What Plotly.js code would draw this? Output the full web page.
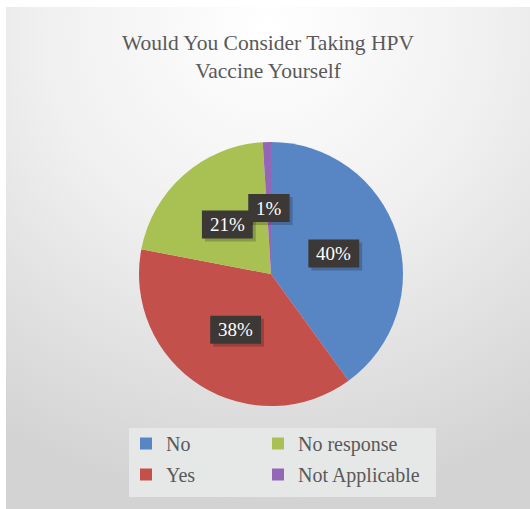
<!DOCTYPE html>
<html><head><meta charset="utf-8">
<script src="https://cdn.plot.ly/plotly-3.0.1.min.js"></script>
<style>html,body{margin:0;padding:0;background:#fff}#chart{width:530px;height:509px}</style>
</head><body><div id="chart"></div>
<script>
// ---- data ----
const categories = ["No", "Yes", "No response", "Not Applicable"];
const values = [40, 38, 21, 1];
const legendColumn1 = ["No", "Yes"];
const legendColumn2 = ["No response", "Not Applicable"];
const titleText = "Would You Consider Taking HPV<br>Vaccine Yourself";

// ---- style ----
const colorMap = {"No": "#5886c4", "Yes": "#c4504c", "No response": "#a8c152", "Not Applicable": "#9466b6"};
const W = 530, H = 509;
const M = {l: 0, r: 0, t: 0, b: 0};
const PW = W - M.l - M.r, PH = H - M.t - M.b;
const FONT = "'Liberation Serif', 'Times New Roman', serif";
const TXT = "#595959";
const LABEL_SIZE = 19;

// pie placement in pixels -> domain
const pieL = 139, pieR = 403, pieT = 142, pieB = 406;
const dom = {
  x: [(pieL - M.l) / PW, (pieR - M.l) / PW],
  y: [(H - pieB - M.b) / PH, (H - pieT - M.b) / PH]
};
const cxPx = M.l + (dom.x[0] + dom.x[1]) / 2 * PW;
const cyPx = M.b + (dom.y[0] + dom.y[1]) / 2 * PH; // from bottom
const Rpx = Math.min((dom.x[1] - dom.x[0]) * PW, (dom.y[1] - dom.y[0]) * PH) / 2;

const traces = [{
  type: "pie",
  labels: categories,
  values: values,
  sort: false,
  direction: "clockwise",
  rotation: 0,
  marker: {colors: categories.map(c => colorMap[c]), line: {width: 0}},
  textinfo: "none",
  hoverinfo: "label+percent",
  showlegend: false,
  domain: dom
}];
[[legendColumn1, "legend"], [legendColumn2, "legend2"]].forEach(([names, lg]) => {
  names.forEach(name => {
    traces.push({
      type: "scatter", mode: "markers", x: [null], y: [null], name: name,
      legend: lg, legendgroup: name,
      marker: {symbol: "square", size: 12, color: colorMap[name], line: {width: 0}},
      hoverinfo: "skip"
    });
  });
});

// data labels computed from values through the pie geometry
const total = values.reduce((a, b) => a + b, 0);
const annotations = [];
const labelShapes = [];
let cum = 0;
values.forEach((v, i) => {
  const mid = (cum + v / 2) / total;
  cum += v;
  const th = mid * 2 * Math.PI;
  const rl = 0.5 * Rpx;
  const px = cxPx + rl * Math.sin(th);
  const py = cyPx + rl * Math.cos(th);
  const pct = Math.round(v / total * 100) + "%";
  // estimated box size from text
  const digits = pct.length - 1;
  const bw = LABEL_SIZE * (0.5 * digits + 0.833) + 16;
  const bh = 28;
  [[3, -3, "rgba(0,0,0,0.2)"], [0, 0, "#3b3836"]].forEach(([dx, dy, fc]) => {
    labelShapes.push({
      type: "rect", xref: "paper", yref: "paper", layer: "above",
      x0: (px + dx - bw / 2 - M.l) / PW, x1: (px + dx + bw / 2 - M.l) / PW,
      y0: (py + dy - bh / 2 - M.b) / PH, y1: (py + dy + bh / 2 - M.b) / PH,
      fillcolor: fc, line: {width: 0}
    });
  });
  annotations.push({
    xref: "paper", yref: "paper",
    x: (px - M.l) / PW, y: (py - M.b) / PH,
    xanchor: "center", yanchor: "middle",
    showarrow: false,
    text: pct,
    font: {family: FONT, size: LABEL_SIZE, color: "#ffffff"}
  });
});

const bgSvg = "<svg xmlns='http://www.w3.org/2000/svg' width='524' height='502'>" +
  "<defs><radialGradient id='g' cx='50%' cy='4%' r='95%'>" +
  "<stop offset='0' stop-color='#ffffff'/><stop offset='0.45' stop-color='#f0f0f0'/><stop offset='1' stop-color='#d3d3d3'/>" +
  "</radialGradient></defs><rect width='524' height='502' fill='url(#g)'/></svg>";

const legendBase = {
  orientation: "v",
  xanchor: "left",
  yanchor: "top",
  y: (H - 424 - M.b) / PH,
  bgcolor: "rgba(0,0,0,0)",
  font: {family: FONT, size: 20, color: TXT},
  tracegroupgap: 2,
  traceorder: "grouped"
};

const layout = {
  width: W, height: H,
  margin: M,
  paper_bgcolor: "#ffffff",
  plot_bgcolor: "rgba(0,0,0,0)",
  font: {family: FONT, color: TXT},
  title: {
    text: titleText,
    x: 268 / W, xanchor: "center", xref: "container",
    y: 1 - 50 / H, yanchor: "top", yref: "container",
    font: {family: FONT, size: 21.5, color: TXT}
  },
  xaxis: {visible: false},
  yaxis: {visible: false},
  showlegend: true,
  legend: Object.assign({}, legendBase, {x: (126 - M.l) / PW}),
  legend2: Object.assign({}, legendBase, {x: (258 - M.l) / PW}),
  images: [{
    source: "data:image/svg+xml;charset=utf-8," + encodeURIComponent(bgSvg),
    xref: "paper", yref: "paper",
    x: (6 - M.l) / PW, y: (H - 7 - M.b) / PH,
    sizex: (W - 6) / PW, sizey: (H - 7) / PH,
    sizing: "stretch", xanchor: "left", yanchor: "top", layer: "below"
  }],
  shapes: [{
    type: "rect", xref: "paper", yref: "paper", layer: "below",
    x0: (129 - M.l) / PW, x1: (436 - M.l) / PW,
    y0: (H - 497 - M.b) / PH, y1: (H - 428 - M.b) / PH,
    fillcolor: "#e6e8e8", line: {width: 0}
  }].concat(labelShapes),
  annotations: annotations
};

Plotly.newPlot("chart", traces, layout, {displayModeBar: false, staticPlot: true});
</script>
</body></html>
